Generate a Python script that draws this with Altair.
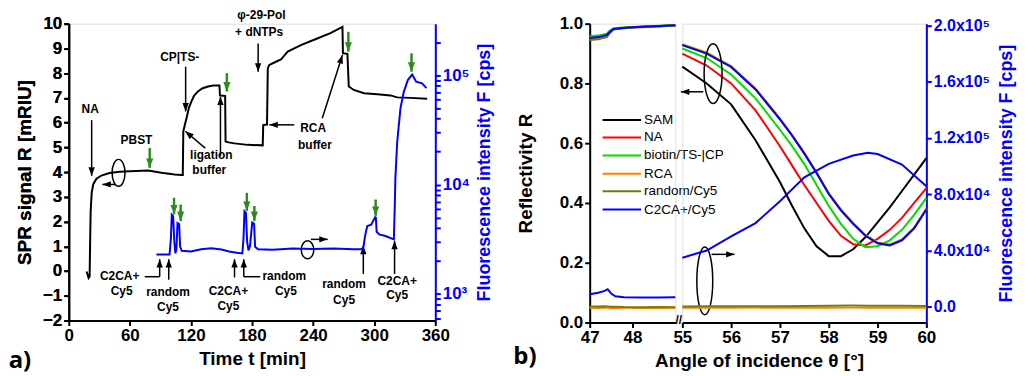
import math
import altair as alt
import pandas as pd

FONT = "Liberation Sans"
BLUE = "#0000ff"
GREEN_ARROW = "#2f8a1f"

# ------------------------------------------------------------------ panel a data
spr_time = [17.5, 19.5, 20.5, 21.0, 21.5, 22.5, 24, 27, 32, 40, 50, 60, 78, 91, 104, 110.6,
            112, 112.5, 114, 116.4, 118, 120.4, 123, 126.9, 131, 136.7, 142, 148, 148.5, 153.6,
            154, 157, 162.7, 175.8, 190.5, 191, 194.7, 195.5, 197, 203.5, 208.4, 215, 228, 244,
            257, 268.8, 269.3, 273.7, 275, 280, 290, 303, 316, 322.6, 335.6, 352]
spr_signal = [-0.02, -0.28, -0.22, 1.2, 2.4, 3.15, 3.5, 3.72, 3.86, 3.96, 4.01, 4.03, 4.06, 3.97, 3.9, 3.88,
              3.88, 5.65, 5.9, 6.31, 6.6, 6.85, 7.08, 7.26, 7.38, 7.46, 7.5, 7.5, 7.1, 7.08,
              5.24, 5.2, 5.16, 5.1, 5.08, 5.9, 5.92, 8.2, 8.33, 8.46, 8.55, 8.87, 9.13, 9.4,
              9.62, 9.87, 8.8, 8.78, 7.46, 7.32, 7.19, 7.15, 7.1, 7.02, 7.0, 6.96]

fl_time = [86.1, 99, 100.3, 101.2, 102.5, 103.7, 104.7, 105.8, 106.8, 108.4, 109.4, 111, 120, 130,
           140, 150, 157.5, 165, 170.5, 171.6, 172.6, 174, 175.2, 176.5, 178, 180.2, 182, 183,
           186, 200, 220, 240, 260, 280, 287.5, 289.5, 291, 293.2, 297, 301, 301.6, 302.4, 305,
           311, 319.3, 320.2, 320.8, 322.6, 325.8, 329, 333, 337.3, 341.2, 347, 351.3]
fl_counts = [2300, 2300, 3200, 5300, 5150, 3000, 2350, 2600, 4450, 4350, 2700, 2480, 2450, 2560,
             2620, 2550, 2450, 2380, 2350, 3200, 5700, 5500, 3000, 2500, 2750, 4500, 4400, 2700,
             2560, 2540, 2600, 2580, 2600, 2570, 2560, 2700, 3400, 4180, 4300, 5040, 5000, 3700, 3500,
             3390, 3160, 6500, 11500, 24700, 50000, 70000, 90000, 101000, 87000, 84000, 76000]

ann_text = ["NA", "PBST", "CP|TS-", "ligation", "buffer", "φ-29-Pol", "+ dNTPs", "RCA", "buffer",
            "C2CA+", "Cy5", "random", "Cy5", "C2CA+", "Cy5", "random", "Cy5", "random", "Cy5",
            "C2CA+", "Cy5"]
ann_t = [21, 66.5, 109, 140, 138, 189.3, 187, 240, 241.8,
         50, 52, 97.5, 97.5, 156.8, 156.8, 211.7, 213.3, 270.4, 270.4, 322.5, 322.5]
ann_R = [6.55, 5.3, 8.66, 4.7, 4.1, 10.34, 9.67, 5.78, 5.1,
         -0.19, -0.79, -0.86, -1.46, -0.79, -1.4, -0.19, -0.79, -0.53, -1.17, -0.39, -0.99]

arr_t1 = [22.5, 114.8, 134, 149, 186, 221.5, 249, 74.6, 89.3, 98.2, 162.8, 171.9, 171.9, 289.3, 320, 46, 237.8]
arr_R1 = [6.1, 8.26, 4.97, 4.65, 9.2, 5.91, 6.18, -0.23, -0.23, -0.35, -0.26, -0.23, -0.23, -0.12, -0.12, 3.5, 1.28]
arr_t2 = [22.5, 114.8, 114.5, 149, 186, 197, 268.8, 89.3, 89.3, 98.2, 162.8, 171.9, 188, 289.3, 320, 33, 254.3]
arr_R2 = [3.85, 6.45, 5.65, 7.05, 8.06, 5.91, 8.73, -0.23, 0.48, 0.48, 0.48, 0.48, -0.23, 1.02, 1.22, 3.5, 1.28]
arr_head = [True, True, True, True, True, True, True, False, True, True, True, True, False, True, True, True, True]

green_t = [79.5, 155.3, 274.6, 336.6, 103.4, 109.9, 174.9, 182.3, 301.4]
green_R1 = [4.97, 8.0, 9.67, 8.8, 2.96, 2.69, 3.16, 2.63, 2.89]
green_R2 = [4.17, 7.26, 8.87, 8.06, 2.29, 2.02, 2.43, 2.02, 2.23]

ell_a_t = [48.9, 234.5]
ell_a_R = [3.97, 0.857]

# ------------------------------------------------------------------ panel b data
series = ["SAM", "NA", "biotin/TS-|CP", "RCA", "random/Cy5", "C2CA+/Cy5"]
series_colors = ["#000000", "#ff0000", "#00dd00", "#ff8000", "#7b7b00", "#0000ff"]

ang_left = [47, 47.2, 47.4, 47.45, 47.55, 47.7, 48, 48.5, 49]
refl_left = {
    "SAM": [0.950, 0.953, 0.960, 0.968, 0.981, 0.985, 0.988, 0.991, 0.994],
    "NA": [0.951, 0.954, 0.961, 0.969, 0.981, 0.985, 0.988, 0.991, 0.994],
    "biotin/TS-|CP": [0.958, 0.960, 0.966, 0.975, 0.984, 0.986, 0.989, 0.992, 0.995],
    "RCA": [0.947, 0.950, 0.957, 0.966, 0.980, 0.984, 0.987, 0.990, 0.994],
    "random/Cy5": [0.945, 0.948, 0.955, 0.965, 0.980, 0.984, 0.987, 0.990, 0.994],
    "C2CA+/Cy5": [0.952, 0.955, 0.962, 0.970, 0.982, 0.985, 0.988, 0.991, 0.995],
}
ang_right = [55, 55.5, 56, 56.5, 57, 57.25, 57.5, 57.75, 58, 58.25, 58.5, 58.75, 59, 59.25, 59.5, 59.75, 60]
refl_right = {
    "SAM": [0.856, 0.80, 0.73, 0.61, 0.47, 0.39, 0.315, 0.255, 0.222, 0.222, 0.245, 0.285, 0.335, 0.385, 0.44, 0.495, 0.55],
    "NA": [0.90, 0.86, 0.80, 0.71, 0.59, 0.525, 0.46, 0.40, 0.34, 0.29, 0.262, 0.258, 0.28, 0.31, 0.35, 0.40, 0.45],
    "biotin/TS-|CP": [0.917, 0.885, 0.83, 0.75, 0.645, 0.59, 0.53, 0.46, 0.39, 0.33, 0.28, 0.252, 0.255, 0.275, 0.31, 0.36, 0.417],
    "RCA": [0.931, 0.903, 0.858, 0.783, 0.683, 0.628, 0.568, 0.503, 0.433, 0.378, 0.333, 0.293, 0.268, 0.261, 0.278, 0.318, 0.381],
    "random/Cy5": [0.929, 0.901, 0.856, 0.781, 0.681, 0.626, 0.566, 0.501, 0.431, 0.376, 0.331, 0.291, 0.266, 0.259, 0.276, 0.316, 0.379],
    "C2CA+/Cy5": [0.928, 0.90, 0.855, 0.78, 0.68, 0.625, 0.565, 0.50, 0.43, 0.375, 0.33, 0.29, 0.265, 0.258, 0.275, 0.315, 0.378],
}
fl_ang_left = [47, 47.2, 47.35, 47.42, 47.5, 47.6, 47.8, 48.2, 48.6, 49]
fl_left = {
    "RCA": [-700, -750, -650, -700, -800, -750, -700, -800, -750, -700],
    "random/Cy5": [300, 250, 350, 300, 150, 100, -100, -200, -150, -200],
    "C2CA+/Cy5": [9000, 10000, 11300, 12500, 9500, 7500, 6800, 6600, 6700, 6800],
}
fl_ang_right = [55, 55.5, 56, 56.5, 57, 57.5, 58, 58.5, 58.8, 59, 59.5, 60]
fl_right = {
    "RCA": [-600, -650, -600, -550, -600, -650, -600, -550, -600, -650, -600, -600],
    "random/Cy5": [300, 350, 400, 450, 500, 550, 700, 900, 850, 800, 700, 600],
    "C2CA+/Cy5": [34900, 40000, 50000, 59500, 75000, 92000, 101500, 107500, 109500, 108500, 101000, 85600],
}

legend_R = [0.678, 0.619, 0.559, 0.498, 0.439, 0.378]

ell_b_ang = [55.63, 55.46]
ell_b_R = [0.833, 0.139]
arr_b_a1 = [55.43, 55.6]
arr_b_R1 = [0.772, 0.228]
arr_b_a2 = [54.97, 56.07]
arr_b_R2 = [0.772, 0.228]

fl_b_tick_values = [0, 40000, 80000, 120000, 160000, 200000]
fl_b_tick_labels = ["0.0", "4.0x10⁴", "8.0x10⁴", "1.2x10⁵", "1.6x10⁵", "2.0x10⁵"]
fl_a_major = [1000, 10000, 100000]
fl_a_major_labels = ["10³", "10⁴", "10⁵"]

# ------------------------------------------------------------------ sizes & helpers
A_W, A_H = 368, 298
BL_W, BR_W, B_H = 86, 245, 300
T_DOM, R_DOM, F_DOM = [0, 360], [-2, 10], [573, 295000]
BL_DOM, BR_DOM, RB_DOM, FB_DOM = [47, 49], [55, 60], [0, 1.0], [-11100, 201100]

HEAD = "M0,0L0.75,2L-0.75,2Z"


def ellipse_path(rx):
    return f"M{-rx},0a{rx},1 0 1,0 {2 * rx},0a{rx},1 0 1,0 {-2 * rx},0Z"


def head_angle(x1, y1, x2, y2, sx, sy):
    dxp = (x2 - x1) * sx
    dyp = -(y2 - y1) * sy
    return math.degrees(math.atan2(dxp, -dyp)) % 360


def expr_labels(values, labels):
    e = "''"
    for v, l in zip(reversed(values), reversed(labels)):
        e = f"datum.value == {v} ? '{l}' : ({e})"
    return e


axis_style = dict(labelFont=FONT, titleFont=FONT, labelFontSize=17, labelFontWeight="bold",
                  titleFontSize=19, titleFontWeight="bold", domainWidth=2, tickWidth=2, tickSize=5,
                  grid=False, labelFlush=False, labelOverlap=False, labelPadding=2)
black = dict(domainColor="black", tickColor="black", labelColor="black", titleColor="black")
blue = dict(domainColor=BLUE, tickColor=BLUE, labelColor=BLUE, titleColor=BLUE)

# ------------------------------------------------------------------ panel a
sc_t = alt.Scale(domain=T_DOM, nice=False, zero=False)
sc_R = alt.Scale(domain=R_DOM, nice=False, zero=False)
sc_F = alt.Scale(type="log", domain=F_DOM, nice=False)
ax_t = alt.Axis(values=list(range(0, 361, 60)), title="Time t [min]", titlePadding=6, **axis_style, **black)
ax_R = alt.Axis(values=list(range(-2, 11)), title="SPR signal R [mRIU]", titlePadding=8, **axis_style, **black)
fl_ticks = [m * 10 ** k for k in (2, 3, 4, 5) for m in range(1, 10) if F_DOM[0] <= m * 10 ** k <= F_DOM[1]]
ax_F = alt.Axis(values=fl_ticks, orient="right", labelExpr=expr_labels(fl_a_major, fl_a_major_labels),
                title="Fluorescence intensity F [cps]", titleAngle=270, titleBaseline="top",
                titlePadding=6, **{**axis_style, "titleFontSize": 18}, **blue)

spr_df = pd.DataFrame({"t": spr_time, "R": spr_signal})
fl_df = pd.DataFrame({"t": fl_time, "F": fl_counts})
ann_df = pd.DataFrame({"label": ann_text, "t": ann_t, "R": ann_R})
arr_df = pd.DataFrame({"t1": arr_t1, "R1": arr_R1, "t2": arr_t2, "R2": arr_R2, "head": arr_head})
sxa, sya = A_W / (T_DOM[1] - T_DOM[0]), A_H / (R_DOM[1] - R_DOM[0])
arr_df["ang"] = [head_angle(a, b, c, d, sxa, sya) for a, b, c, d in zip(arr_t1, arr_R1, arr_t2, arr_R2)]
heads_df = arr_df[arr_df["head"]]
green_df = pd.DataFrame({"t": green_t, "R1": green_R1, "R2": green_R2})
ell_a_df = pd.DataFrame({"t": ell_a_t, "R": ell_a_R,
                         "shape": [ellipse_path(0.48), ellipse_path(0.7)], "sz": [729, 324]})

Xa = lambda f: alt.X(f, type="quantitative", scale=sc_t, axis=ax_t)
Ya = lambda f: alt.Y(f, type="quantitative", scale=sc_R, axis=ax_R)

spr_line = alt.Chart(spr_df).mark_line(color="black", strokeWidth=2).encode(x=Xa("t"), y=Ya("R"))
ann = alt.Chart(ann_df).mark_text(font=FONT, fontSize=12, fontWeight="bold", color="black",
                                  align="center", baseline="middle").encode(x=Xa("t"), y=Ya("R"), text="label:N")
shafts = alt.Chart(arr_df).mark_rule(color="black", strokeWidth=1.5).encode(
    x=Xa("t1"), x2="t2:Q", y=Ya("R1"), y2="R2:Q")
heads = alt.Chart(heads_df).mark_point(shape=HEAD, filled=True, size=72, color="black", opacity=1).encode(
    x=Xa("t2"), y=Ya("R2"), angle=alt.Angle("ang:Q", scale=None))
g_shafts = alt.Chart(green_df).mark_rule(color=GREEN_ARROW, strokeWidth=2.5).encode(
    x=Xa("t"), y=Ya("R1"), y2="R2:Q")
g_heads = alt.Chart(green_df).mark_point(shape=HEAD, filled=True, size=90, color=GREEN_ARROW, opacity=1,
                                         angle=180).encode(x=Xa("t"), y=Ya("R2"))
ell_a = alt.Chart(ell_a_df).mark_point(filled=False, color="black", strokeWidth=1.5, opacity=1).encode(
    x=Xa("t"), y=Ya("R"), shape=alt.Shape("shape:N", scale=None), size=alt.Size("sz:Q", scale=None))
a_label = alt.Chart(pd.DataFrame({"label": ["a)"]})).mark_text(
    font="Open Sans", fontSize=24, fontWeight="bold", color="black", align="center", baseline="middle").encode(
    x=alt.value(-49), y=alt.value(339), text="label:N")
fl_line = alt.Chart(fl_df).mark_line(color=BLUE, strokeWidth=2).encode(
    x=Xa("t"), y=alt.Y("F:Q", scale=sc_F, axis=ax_F))

panel_a = alt.layer(
    alt.layer(spr_line, ell_a, shafts, heads, ann, a_label),
    fl_line,
    alt.layer(g_shafts, g_heads),
).resolve_scale(y="independent").properties(width=A_W, height=A_H)

# ------------------------------------------------------------------ panel b
color_scale = alt.Scale(domain=series, range=series_colors)
sc_RB = alt.Scale(domain=RB_DOM, nice=False, zero=False)
sc_FB = alt.Scale(domain=FB_DOM, nice=False, zero=False)
ax_RB = alt.Axis(values=[0, 0.2, 0.4, 0.6, 0.8, 1.0], format=".1f", title="Reflectivity R",
                 titlePadding=24, **axis_style, **black)
ax_FB = alt.Axis(values=fl_b_tick_values, orient="right",
                 labelExpr=expr_labels(fl_b_tick_values, fl_b_tick_labels),
                 title="Fluorescence intensity F [cps]", titleAngle=270, titleBaseline="top",
                 titlePadding=8, **{**axis_style, "labelFontSize": 16, "titleFontSize": 18}, **blue)
ax_bl = alt.Axis(values=[47, 48], title=None, **axis_style, **black)
ax_br = alt.Axis(values=[55, 56, 57, 58, 59, 60], title="Angle of incidence θ [°]", titleX=77,
                 titlePadding=6, **axis_style, **black)


def long_df(angles, table):
    rows = []
    for s in series:
        if s in table:
            for a, v in zip(angles, table[s]):
                rows.append({"angle": a, "value": v, "series": s})
    return pd.DataFrame(rows)


sc_bl = alt.Scale(domain=BL_DOM, nice=False, zero=False)
sc_br = alt.Scale(domain=BR_DOM, nice=False, zero=False)
col = alt.Color("series:N", scale=color_scale, legend=None, sort=series)


def seg_lines(angles, table, xscale, xaxis, yscale, yaxis):
    return alt.Chart(long_df(angles, table)).mark_line(strokeWidth=2).encode(
        x=alt.X("angle:Q", scale=xscale, axis=xaxis),
        y=alt.Y("value:Q", scale=yscale, axis=yaxis),
        color=col, order=alt.Order("angle:Q"))


leg_df = pd.DataFrame({"series": series, "y": legend_R, "x1": [47.3] * 6, "x2": [48.2] * 6, "xt": [48.27] * 6})
leg_rules = alt.Chart(leg_df).mark_rule(strokeWidth=2).encode(
    x=alt.X("x1:Q", scale=sc_bl, axis=ax_bl), x2="x2:Q",
    y=alt.Y("y:Q", scale=sc_RB, axis=ax_RB), color=col)
leg_text = alt.Chart(leg_df).mark_text(font=FONT, fontSize=13.5, color="black", align="left",
                                       baseline="middle").encode(
    x=alt.X("xt:Q", scale=sc_bl, axis=ax_bl), y=alt.Y("y:Q", scale=sc_RB, axis=ax_RB), text="series:N")
b_label = alt.Chart(pd.DataFrame({"label": ["b)"]})).mark_text(
    font="Open Sans", fontSize=24, fontWeight="bold", color="black", align="center", baseline="middle").encode(
    x=alt.value(-65), y=alt.value(335), text="label:N")

b_left = alt.layer(
    alt.layer(seg_lines(ang_left, refl_left, sc_bl, ax_bl, sc_RB, ax_RB), leg_rules, leg_text, b_label),
    seg_lines(fl_ang_left, fl_left, sc_bl, ax_bl, sc_FB, None),
).resolve_scale(y="independent").properties(width=BL_W, height=B_H)

sxb, syb = BR_W / (BR_DOM[1] - BR_DOM[0]), B_H / (RB_DOM[1] - RB_DOM[0])
arr_b_df = pd.DataFrame({"a1": arr_b_a1, "R1": arr_b_R1, "a2": arr_b_a2, "R2": arr_b_R2})
arr_b_df["ang"] = [head_angle(a, b, c, d, sxb, syb) for a, b, c, d in zip(arr_b_a1, arr_b_R1, arr_b_a2, arr_b_R2)]
ell_b_df = pd.DataFrame({"a": ell_b_ang, "R": ell_b_R,
                         "shape": [ellipse_path(0.3), ellipse_path(0.235)], "sz": [3600, 4624]})
Xb = lambda f: alt.X(f, type="quantitative", scale=sc_br, axis=ax_br)
Yb = lambda f: alt.Y(f, type="quantitative", scale=sc_RB, axis=None)
b_shafts = alt.Chart(arr_b_df).mark_rule(color="black", strokeWidth=1.5).encode(
    x=Xb("a1"), x2="a2:Q", y=Yb("R1"), y2="R2:Q")
b_heads = alt.Chart(arr_b_df).mark_point(shape=HEAD, filled=True, size=72, color="black", opacity=1).encode(
    x=Xb("a2"), y=Yb("R2"), angle=alt.Angle("ang:Q", scale=None))
ell_b = alt.Chart(ell_b_df).mark_point(filled=False, color="black", strokeWidth=1.5, opacity=1).encode(
    x=Xb("a"), y=Yb("R"), shape=alt.Shape("shape:N", scale=None), size=alt.Size("sz:Q", scale=None))
brk = alt.Chart(pd.DataFrame({"label": ["//"]})).mark_text(
    font=FONT, fontSize=12, fontWeight="bold", color="black", align="center", baseline="middle").encode(
    x=alt.value(-3.5), y=alt.value(B_H - 2), text="label:N")

b_right = alt.layer(
    alt.layer(seg_lines(ang_right, refl_right, sc_br, ax_br, sc_RB, None), ell_b, b_shafts, b_heads, brk),
    seg_lines(fl_ang_right, fl_right, sc_br, ax_br, sc_FB, ax_FB),
).resolve_scale(y="independent").properties(width=BR_W, height=B_H)

panel_b = alt.hconcat(b_left, b_right, spacing=7, bounds="flush")

chart = alt.hconcat(panel_a, panel_b, spacing=155, bounds="flush").properties(
    padding={"left": 0, "top": 0, "right": 0, "bottom": 0}
).configure_view(stroke=None).configure(font=FONT)

chart.save("out.html", embed_options={"renderer": "svg", "actions": False})
